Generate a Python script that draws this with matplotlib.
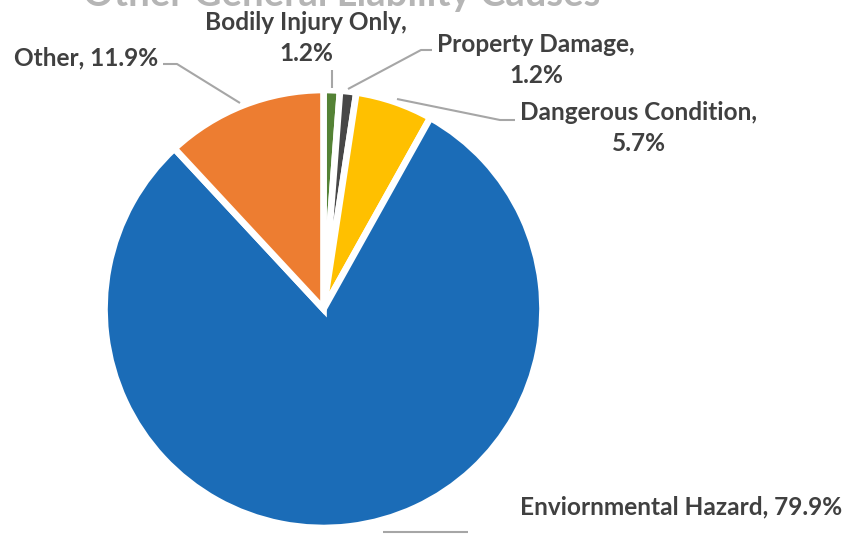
import matplotlib
matplotlib.use("Agg")
import matplotlib.pyplot as plt

# datos del grafico
categorias = ["Bodily Injury Only", "Property Damage", "Dangerous Condition",
              "Enviornmental Hazard", "Other"]
porcentajes = [1.2, 1.2, 5.7, 79.9, 11.9]
colores = ["#548235", "#474747", "#FFC000", "#1B6CB7", "#ED7D31"]
titulo = "Other General Liability Causes"

W, H = 853, 534
TXT = "#404040"
LINEA = "#a6a6a6"


def Y(py):
    # pixel desde arriba -> coordenada del eje
    return H - py


fig = plt.figure(figsize=(W / 100, H / 100), dpi=100)
ax = fig.add_axes([0, 0, 1, 1])

ax.pie(porcentajes, colors=colores, startangle=90, counterclock=False,
       center=(323.5, Y(309)), radius=219,
       wedgeprops=dict(edgecolor="white", linewidth=4.8, joinstyle="miter"))

ax.set_xlim(0, W)
ax.set_ylim(0, H)
ax.set_aspect("equal")
ax.axis("off")

fuente = dict(family=["Lato", "DejaVu Sans"], weight="bold", color=TXT,
              fontsize=17.6, ha="center", va="center", linespacing=1.4)

# titulo cortado arriba (como en la imagen original)
ax.text(342, Y(6), titulo, family=["Lato", "DejaVu Sans"], weight="bold",
        color="#b5b5b5", fontsize=27.5, ha="center", va="baseline")

etiquetas = [
    (categorias[0] + ",\n" + f"{porcentajes[0]}%", 306, 38),
    (categorias[1] + ",\n" + f"{porcentajes[1]}%", 536, 60),
    (categorias[2] + ",\n" + f"{porcentajes[2]}%", 639, 128),
    (categorias[3] + ", " + f"{porcentajes[3]}%", 681, 507),
    (categorias[4] + ", " + f"{porcentajes[4]}%", 86, 58),
]
for txt, px, py in etiquetas:
    ax.text(px, Y(py), txt, **fuente)

# lineas guia
guias = [
    [(332, 70), (332, 88)],
    [(432, 50), (421, 50), (348, 89)],
    [(397, 99), (500, 120), (515, 120)],
    [(383, 532), (468, 532)],
    [(163, 64), (177, 64), (240, 103)],
]
for g in guias:
    xs = [p[0] for p in g]
    ys = [Y(p[1]) for p in g]
    ax.plot(xs, ys, color=LINEA, lw=1.5, solid_capstyle="butt")

fig.savefig("out.png", dpi=100)
